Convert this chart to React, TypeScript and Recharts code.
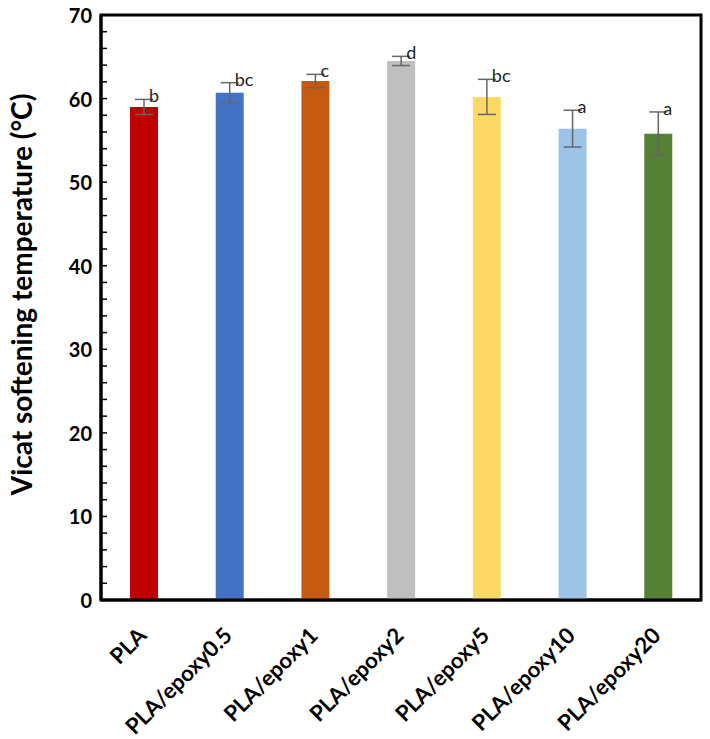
import React from 'react';
import { BarChart, Bar, XAxis, YAxis, Cell, ErrorBar, LabelList, ReferenceArea } from 'recharts';

const categories = ['PLA', 'PLA/epoxy0.5', 'PLA/epoxy1', 'PLA/epoxy2', 'PLA/epoxy5', 'PLA/epoxy10', 'PLA/epoxy20'];
const values = [59.0, 60.7, 62.1, 64.5, 60.2, 56.4, 55.8];
const errors = [0.9, 1.2, 0.8, 0.55, 2.1, 2.2, 2.6];
const letters = ['b', 'bc', 'c', 'd', 'bc', 'a', 'a'];
const colors = ['#C00000', '#4472C4', '#C55A11', '#BFBFBF', '#FFD966', '#9DC3E6', '#548235'];
const majorTicks = [0, 10, 20, 30, 40, 50, 60, 70];
const minorStep = 2;
const yTitle = 'Vicat softening temperature (°C)';

const data = categories.map((name, i) => ({ name, value: values[i], err: errors[i] }));
const allTicks: number[] = [];
for (let v = majorTicks[0]; v <= majorTicks[majorTicks.length - 1]; v += minorStep) allTicks.push(v);

const FONT = 'Lato, "Open Sans", sans-serif';

const YTick = (props: any) => {
  const { x, y, payload } = props;
  const v = payload.value;
  const isMajor = majorTicks.includes(v);
  return (
    <g>
      {v !== 0 && v !== 70 && <line x1={x} x2={x + 6} y1={y} y2={y} stroke="#000" strokeWidth={1.5} />}
      {isMajor && (
        <text x={x - 9} y={y} textAnchor="end" dominantBaseline="central" fontFamily={FONT} fontWeight={700} fontSize={20} fill="#000">
          {v}
        </text>
      )}
    </g>
  );
};

const XTick = (props: any) => {
  const { x, y, payload } = props;
  const ax = x - 2;
  const ay = y + 31;
  return (
    <text x={ax} y={ay} transform={`rotate(-45, ${ax}, ${ay})`} textAnchor="end" dominantBaseline="central" fontFamily={FONT} fontWeight={700} fontSize={22} fill="#000">
      {payload.value}
    </text>
  );
};

const LetterLabel = (props: any) => {
  const { x, y, width, height, index } = props;
  const errTop = y - (errors[index] * height) / values[index];
  return (
    <text x={x + width / 2 + 5} y={errTop - 4} dominantBaseline="central" fontFamily={FONT} fontSize={18} fill="#262626">
      {letters[index]}
    </text>
  );
};

const YTitle = (props: any) => {
  const vb = props.viewBox || { x: 0, y: 15, width: 101, height: 585 };
  const cx = vb.x + 21;
  const cy = vb.y + vb.height / 2 - 13;
  return (
    <text x={cx} y={cy} transform={`rotate(-90, ${cx}, ${cy})`} textAnchor="middle" dominantBaseline="central" fontFamily={FONT} fontWeight={700} fontSize={28} fill="#000">
      {yTitle}
    </text>
  );
};

export default function App() {
  return (
    <div style={{ position: 'absolute', left: 0, top: 0, width: 710, height: 739, background: '#fff' }}>
      <BarChart width={710} height={739} data={data} margin={{ top: 15, right: 9, left: 0, bottom: 0 }} barSize={28}>
        <XAxis dataKey="name" height={139} tickLine={false} tickSize={0} tickMargin={0} axisLine={{ stroke: '#000', strokeWidth: 3 }} tick={<XTick />} interval={0} />
        <YAxis
          width={101}
          domain={[0, 70]}
          ticks={allTicks}
          interval={0}
          tickLine={false}
          tickSize={0}
          tickMargin={0}
          axisLine={{ stroke: '#000', strokeWidth: 3 }}
          tick={<YTick />}
          label={{ content: <YTitle /> }}
        />
        <ReferenceArea y1={0} y2={70} fill="none" stroke="#000" strokeWidth={3} fillOpacity={0} ifOverflow="visible" />
        <Bar dataKey="value" isAnimationActive={false}>
          {data.map((d, i) => (
            <Cell key={d.name} fill={colors[i]} />
          ))}
          <ErrorBar dataKey="err" width={9} stroke="#666666" strokeWidth={1.5} direction="y" />
          <LabelList dataKey="value" content={<LetterLabel />} />
        </Bar>
      </BarChart>
    </div>
  );
}
